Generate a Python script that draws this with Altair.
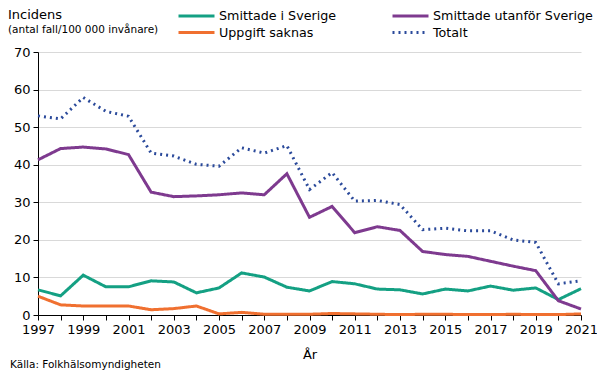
import altair as alt
import pandas as pd

years = list(range(1997, 2022))
series_names = ["Smittade i Sverige", "Uppgift saknas", "Smittade utanför Sverige", "Totalt"]

sverige = [6.7, 5.1, 10.6, 7.5, 7.5, 9.1, 8.8, 5.9, 7.2, 11.2, 10.1, 7.4, 6.4, 8.9, 8.3, 6.9, 6.7, 5.6, 6.9, 6.4, 7.7, 6.6, 7.2, 4.1, 7.0]
saknas = [5.0, 2.7, 2.4, 2.4, 2.4, 1.4, 1.7, 2.4, 0.3, 0.7, 0.2, 0.2, 0.2, 0.4, 0.3, 0.2, 0.1, 0.2, 0.2, 0.1, 0.1, 0.2, 0.1, 0.1, 0.3]
utanfor = [41.3, 44.3, 44.7, 44.2, 42.7, 32.7, 31.5, 31.7, 32.0, 32.5, 32.0, 37.6, 26.0, 28.9, 21.9, 23.5, 22.5, 16.9, 16.1, 15.6, 14.3, 13.0, 11.8, 3.8, 1.6]
totalt = [53.0, 52.2, 57.9, 54.2, 52.9, 43.1, 42.3, 40.1, 39.6, 44.5, 43.1, 45.1, 33.4, 37.9, 30.3, 30.5, 29.4, 22.7, 23.1, 22.4, 22.4, 20.0, 19.3, 8.3, 9.1]

colors = ["#14A083", "#F07030", "#7E3A8F", "#2B4A9B"]
dashes = [[1, 0], [1, 0], [1, 0], [2, 4]]

title_lines = ["Incidens", "(antal fall/100 000 invånare)"]
source_text = ["Källa: Folkhälsomyndigheten"]

rows = []
for name, vals in zip(series_names, [sverige, saknas, utanfor, totalt]):
    for y, v in zip(years, vals):
        rows.append({"År": y, "Värde": v, "Serie": name})
df = pd.DataFrame(rows)

W, H = 543, 263
FONT = "DejaVu Sans"

legend = alt.Legend(title=None, orient="none", legendX=139, legendY=-44,
                    columns=2, columnPadding=49, rowPadding=2,
                    symbolType="M-1,0H5", symbolSize=144,
                    symbolStrokeWidth=3, labelFontSize=12.7, labelLimit=400,
                    labelFont=FONT, labelColor="#000000",
                    labelOffset=27, padding=0)

lines = alt.Chart(df).mark_line(strokeWidth=3).encode(
    x=alt.X("År:Q", scale=alt.Scale(domain=[1997, 2021], nice=False, zero=False),
            axis=alt.Axis(values=years, format="d", title="År",
                          labelExpr="(datum.value - 1997) % 2 == 0 ? datum.label : ''",
                          grid=False, domainColor="#000000", tickColor="#000000",
                          tickSize=5, labelFontSize=13, labelColor="#000000",
                          labelFont=FONT, titleFont=FONT, titleFontSize=13,
                          titleFontWeight="normal", titleColor="#000000",
                          titlePadding=12, labelPadding=3, labelFlush=False,
                          labelOverlap=False)),
    y=alt.Y("Värde:Q", scale=alt.Scale(domain=[0, 70], nice=False),
            axis=alt.Axis(values=list(range(0, 71, 10)), title=None,
                          grid=True, gridColor="#D9D9D9", domainColor="#000000",
                          tickColor="#000000", tickSize=5, labelFontSize=13,
                          labelColor="#000000", labelFont=FONT, labelPadding=3)),
    color=alt.Color("Serie:N", scale=alt.Scale(domain=series_names, range=colors),
                    legend=legend),
    strokeDash=alt.StrokeDash("Serie:N", scale=alt.Scale(domain=series_names, range=dashes),
                              legend=legend),
    order=alt.Order("År:Q"),
)

title1 = alt.Chart(pd.DataFrame({"t": title_lines[:1]})).mark_text(
    align="left", baseline="alphabetic", fontSize=13, font=FONT, color="#000000"
).encode(x=alt.value(-30), y=alt.value(-33), text="t:N")

title2 = alt.Chart(pd.DataFrame({"t": title_lines[1:]})).mark_text(
    align="left", baseline="alphabetic", fontSize=10.5, font=FONT, color="#000000"
).encode(x=alt.value(-30), y=alt.value(-19), text="t:N")

source = alt.Chart(pd.DataFrame({"t": source_text})).mark_text(
    align="left", baseline="alphabetic", fontSize=10.5, font=FONT, color="#000000"
).encode(x=alt.value(-28), y=alt.value(H + 53), text="t:N")

chart = alt.layer(lines, title1, title2, source).properties(
    width=W, height=H,
    autosize=alt.AutoSizeParams(type="none"),
    padding={"left": 30, "top": 44, "right": 16, "bottom": 56},
).configure_view(stroke=None)

chart.save("out.html", embed_options={"renderer": "svg", "actions": False})
